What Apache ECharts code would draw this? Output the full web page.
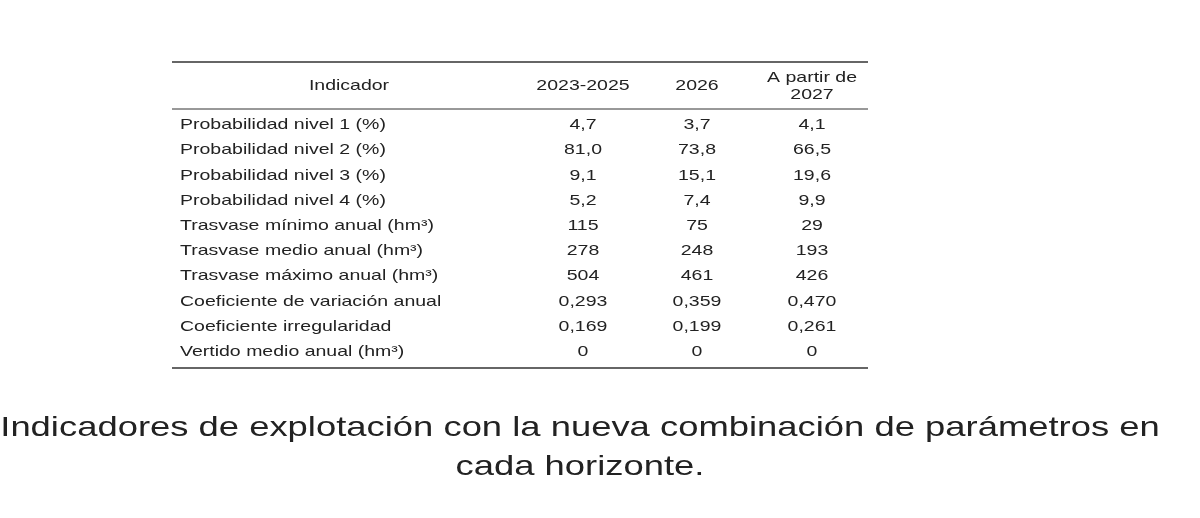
<!DOCTYPE html>
<html>
<head>
<meta charset="utf-8">
<script src="https://cdn.jsdelivr.net/npm/echarts@6/dist/echarts.min.js"></script>
<style>html,body{margin:0;padding:0;background:#fff}#main{width:1200px;height:518px}</style>
</head>
<body>
<div id="main"></div>
<script>
var headers = ['Indicador', '2023-2025', '2026', 'A partir de\n2027'];
var indicators = [
    'Probabilidad nivel 1 (%)',
    'Probabilidad nivel 2 (%)',
    'Probabilidad nivel 3 (%)',
    'Probabilidad nivel 4 (%)',
    'Trasvase mínimo anual (hm³)',
    'Trasvase medio anual (hm³)',
    'Trasvase máximo anual (hm³)',
    'Coeficiente de variación anual',
    'Coeficiente irregularidad',
    'Vertido medio anual (hm³)'
];
var col2023 = ['4,7', '81,0', '9,1', '5,2', '115', '278', '504', '0,293', '0,169', '0'];
var col2026 = ['3,7', '73,8', '15,1', '7,4', '75', '248', '461', '0,359', '0,199', '0'];
var col2027 = ['4,1', '66,5', '19,6', '9,9', '29', '193', '426', '0,470', '0,261', '0'];
var caption = 'Indicadores de explotación con la nueva combinación de parámetros en\ncada horizonte.';

var font = '"Liberation Sans", Arial, sans-serif';
var colX = [349, 583, 697, 812];
var left = 172, right = 868, rowTop = 125, rowH = 25.2;
var sx = 1.3;
var els = [];

function line(y, w) {
    els.push({type: 'line', shape: {x1: left, y1: y, x2: right, y2: y}, style: {stroke: '#333', lineWidth: w}});
}
function txt(x, y, s, align, size, lh) {
    els.push({type: 'text', x: x, y: y, scaleX: sx, style: {text: s, font: size + 'px ' + font, fill: '#222',
        align: align, verticalAlign: 'middle', lineHeight: lh || size + 2}});
}

line(62, 1.5);
line(109, 1);
line(368, 1.5);
headers.forEach(function (h, i) { txt(colX[i], 86, h, 'center', 15); });
indicators.forEach(function (name, r) {
    var y = rowTop + r * rowH;
    txt(180, y, name, 'left', 15);
    txt(colX[1], y, col2023[r], 'center', 15);
    txt(colX[2], y, col2026[r], 'center', 15);
    txt(colX[3], y, col2027[r], 'center', 15);
});
txt(580, 448, caption, 'center', 28, 39);

var chart = echarts.init(document.getElementById('main'));
chart.setOption({backgroundColor: '#fff', graphic: {elements: els}});
</script>
</body>
</html>
